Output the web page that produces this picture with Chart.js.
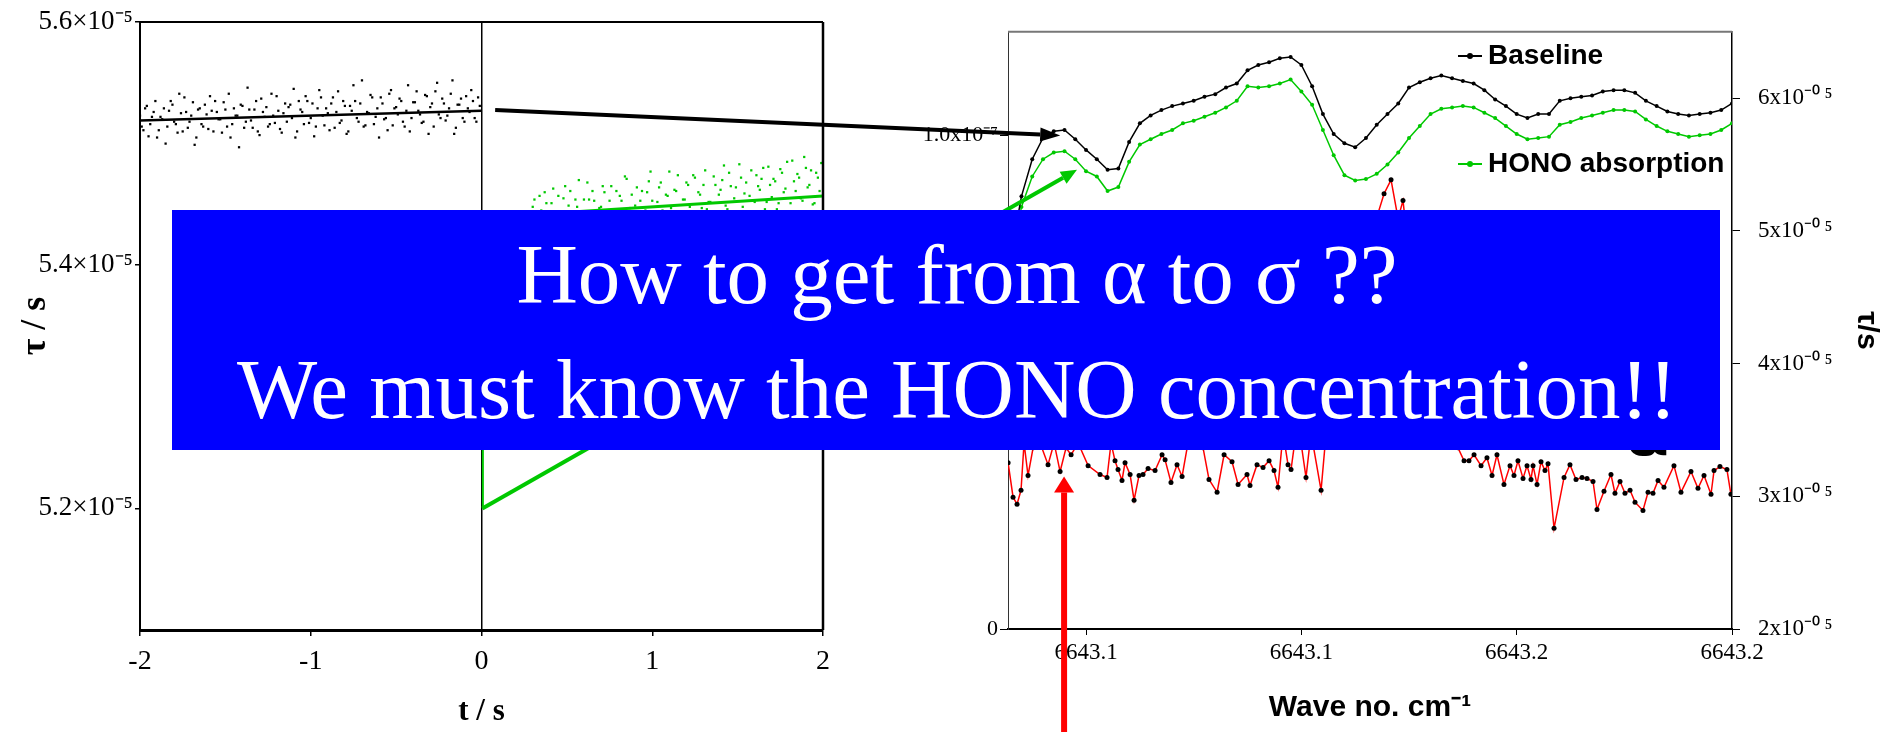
<!DOCTYPE html>
<html>
<head>
<meta charset="utf-8">
<script src="https://cdn.jsdelivr.net/npm/chart.js@4.4.0/dist/chart.umd.min.js"></script>
<style>
  html, body { margin: 0; padding: 0; background: #fff; }
  #stage { position: relative; width: 1881px; height: 732px; overflow: hidden; }
  #stage canvas { position: absolute; top: 0; }
  #left { left: 0; }
  #right { left: 880px; }
  #arrows { left: 0; pointer-events: none; }
  #alphaMark { position: absolute; left: 1625px; top: 401px; font: bold 64px/1 'DejaVu Sans', sans-serif; color: #000; }
  #banner {
    position: absolute; left: 172px; top: 210px; width: 1548px; height: 240px;
    box-sizing: border-box; padding: 7px 0 0 22px;
    background: #0000ff; color: #fff; text-align: center; white-space: nowrap;
    font: 85px/115px 'Liberation Serif', 'Times New Roman', serif;
  }
</style>
</head>
<body>
<div id="stage">
  <canvas id="left" width="870" height="732"></canvas>
  <canvas id="right" width="1001" height="732"></canvas>
  <canvas id="arrows" width="1881" height="732"></canvas>
  <div id="alphaMark">α</div>
  <div id="banner">How to get from α to σ ??<br>We must know the HONO concentration!!</div>
</div>
<script>
// ─── Left panel: ring-down time τ (units of 1e-5 s) vs time ────────────────────
// before HONO (black), two interleaved sample runs
const blackT = [
  -2, -1.98, -1.96, -1.94, -1.92, -1.9, -1.88, -1.86, -1.84, -1.82,
  -1.8, -1.78, -1.76, -1.74, -1.72, -1.7, -1.68, -1.66, -1.64, -1.62,
  -1.6, -1.58, -1.56, -1.54, -1.52, -1.5, -1.48, -1.46, -1.44, -1.42,
  -1.4, -1.38, -1.36, -1.34, -1.32, -1.3, -1.28, -1.26, -1.24, -1.22,
  -1.2, -1.18, -1.16, -1.14, -1.12, -1.1, -1.08, -1.06, -1.04, -1.02,
  -1, -0.98, -0.96, -0.94, -0.92, -0.9, -0.88, -0.86, -0.84, -0.82,
  -0.8, -0.78, -0.76, -0.74, -0.72, -0.7, -0.68, -0.66, -0.64, -0.62,
  -0.6, -0.58, -0.56, -0.54, -0.52, -0.5, -0.48, -0.46, -0.44, -0.42,
  -0.4, -0.38, -0.36, -0.34, -0.32, -0.3, -0.28, -0.26, -0.24, -0.22,
  -0.2, -0.18, -0.16, -0.14, -0.12, -0.1, -0.08, -0.06, -0.04, -0.02
];
const blackTau = [
  5.523, 5.511, 5.531, 5.516, 5.526, 5.505, 5.522, 5.529, 5.514, 5.535,
  5.518, 5.509, 5.525, 5.538, 5.513, 5.523, 5.499, 5.528, 5.516, 5.532,
  5.512, 5.527, 5.535, 5.520, 5.509, 5.528, 5.541, 5.516, 5.523, 5.497,
  5.531, 5.518, 5.528, 5.513, 5.535, 5.507, 5.526, 5.530, 5.516, 5.523,
  5.539, 5.512, 5.525, 5.518, 5.532, 5.545, 5.510, 5.528, 5.516, 5.535,
  5.521, 5.506, 5.529, 5.538, 5.515, 5.525, 5.533, 5.513, 5.543, 5.519,
  5.531, 5.510, 5.527, 5.535, 5.518, 5.552, 5.515, 5.525, 5.538, 5.522,
  5.505, 5.533, 5.521, 5.541, 5.515, 5.530, 5.537, 5.518, 5.527, 5.510,
  5.534, 5.543, 5.524, 5.518, 5.539, 5.530, 5.514, 5.550, 5.521, 5.533,
  5.523, 5.541, 5.508, 5.532, 5.537, 5.518, 5.529, 5.544, 5.521, 5.538
];
const blackT2 = [
  -1.99, -1.97, -1.95, -1.93, -1.91, -1.89, -1.87, -1.85, -1.83, -1.81,
  -1.79, -1.77, -1.75, -1.73, -1.71, -1.69, -1.67, -1.65, -1.63, -1.61,
  -1.59, -1.57, -1.55, -1.53, -1.51, -1.49, -1.47, -1.45, -1.43, -1.41,
  -1.39, -1.37, -1.35, -1.33, -1.31, -1.29, -1.27, -1.25, -1.23, -1.21,
  -1.19, -1.17, -1.15, -1.13, -1.11, -1.09, -1.07, -1.05, -1.03, -1.01,
  -0.99, -0.97, -0.95, -0.93, -0.91, -0.89, -0.87, -0.85, -0.83, -0.81,
  -0.79, -0.77, -0.75, -0.73, -0.71, -0.69, -0.67, -0.65, -0.63, -0.61,
  -0.59, -0.57, -0.55, -0.53, -0.51, -0.49, -0.47, -0.45, -0.43, -0.41,
  -0.39, -0.37, -0.35, -0.33, -0.31, -0.29, -0.27, -0.25, -0.23, -0.21,
  -0.19, -0.17, -0.15, -0.13, -0.11, -0.09, -0.07, -0.05, -0.03, -0.01
];
const blackTau2 = [
  5.514, 5.529, 5.506, 5.522, 5.535, 5.511, 5.520, 5.500, 5.527, 5.532,
  5.516, 5.541, 5.510, 5.526, 5.518, 5.534, 5.505, 5.529, 5.514, 5.524,
  5.539, 5.510, 5.526, 5.520, 5.534, 5.514, 5.505, 5.529, 5.523, 5.532,
  5.513, 5.546, 5.519, 5.528, 5.510, 5.537, 5.522, 5.514, 5.541, 5.517,
  5.527, 5.509, 5.533, 5.530, 5.521, 5.505, 5.535, 5.526, 5.539, 5.517,
  5.533, 5.514, 5.544, 5.523, 5.529, 5.511, 5.538, 5.526, 5.517, 5.535,
  5.508, 5.531, 5.548, 5.521, 5.533, 5.514, 5.526, 5.540, 5.516, 5.529,
  5.538, 5.520, 5.511, 5.544, 5.529, 5.524, 5.535, 5.514, 5.548, 5.521,
  5.534, 5.527, 5.517, 5.540, 5.508, 5.533, 5.543, 5.524, 5.537, 5.519,
  5.529, 5.552, 5.513, 5.532, 5.521, 5.539, 5.526, 5.535, 5.518, 5.531
];
// after HONO (green)
const greenT = [
  0.3, 0.32, 0.34, 0.36, 0.38, 0.4, 0.42, 0.44, 0.46, 0.48,
  0.5, 0.52, 0.54, 0.56, 0.58, 0.6, 0.62, 0.64, 0.66, 0.68,
  0.7, 0.72, 0.74, 0.76, 0.78, 0.8, 0.82, 0.84, 0.86, 0.88,
  0.9, 0.92, 0.94, 0.96, 0.98, 1, 1.02, 1.04, 1.06, 1.08,
  1.1, 1.12, 1.14, 1.16, 1.18, 1.2, 1.22, 1.24, 1.26, 1.28,
  1.3, 1.32, 1.34, 1.36, 1.38, 1.4, 1.42, 1.44, 1.46, 1.48,
  1.5, 1.52, 1.54, 1.56, 1.58, 1.6, 1.62, 1.64, 1.66, 1.68,
  1.7, 1.72, 1.74, 1.76, 1.78, 1.8, 1.82, 1.84, 1.86, 1.88,
  1.9, 1.92, 1.94, 1.96, 1.98, 2
];
const greenTau = [
  5.448, 5.432, 5.457, 5.438, 5.451, 5.430, 5.463, 5.444, 5.436, 5.455,
  5.442, 5.461, 5.435, 5.448, 5.429, 5.454, 5.468, 5.440, 5.453, 5.434,
  5.448, 5.460, 5.440, 5.465, 5.445, 5.434, 5.453, 5.473, 5.439, 5.458,
  5.449, 5.431, 5.461, 5.445, 5.469, 5.453, 5.439, 5.464, 5.445, 5.458,
  5.477, 5.442, 5.461, 5.435, 5.454, 5.468, 5.448, 5.474, 5.440, 5.458,
  5.466, 5.446, 5.452, 5.473, 5.440, 5.462, 5.482, 5.446, 5.465, 5.455,
  5.444, 5.472, 5.459, 5.440, 5.478, 5.452, 5.465, 5.471, 5.446, 5.481,
  5.456, 5.469, 5.451, 5.476, 5.463, 5.443, 5.486, 5.461, 5.472, 5.453,
  5.480, 5.466, 5.450, 5.476, 5.461, 5.485
];
const greenT2 = [
  0.31, 0.33, 0.35, 0.37, 0.39, 0.41, 0.43, 0.45, 0.47, 0.49,
  0.51, 0.53, 0.55, 0.57, 0.59, 0.61, 0.63, 0.65, 0.67, 0.69,
  0.71, 0.73, 0.75, 0.77, 0.79, 0.81, 0.83, 0.85, 0.87, 0.89,
  0.91, 0.93, 0.95, 0.97, 0.99, 1.01, 1.03, 1.05, 1.07, 1.09,
  1.11, 1.13, 1.15, 1.17, 1.19, 1.21, 1.23, 1.25, 1.27, 1.29,
  1.31, 1.33, 1.35, 1.37, 1.39, 1.41, 1.43, 1.45, 1.47, 1.49,
  1.51, 1.53, 1.55, 1.57, 1.59, 1.61, 1.63, 1.65, 1.67, 1.69,
  1.71, 1.73, 1.75, 1.77, 1.79, 1.81, 1.83, 1.85, 1.87, 1.89,
  1.91, 1.93, 1.95, 1.97, 1.99
];
const greenTau2 = [
  5.454, 5.436, 5.445, 5.460, 5.433, 5.451, 5.439, 5.457, 5.431, 5.465,
  5.449, 5.436, 5.454, 5.470, 5.443, 5.430, 5.454, 5.461, 5.440, 5.447,
  5.465, 5.436, 5.453, 5.443, 5.461, 5.457, 5.439, 5.471, 5.447, 5.434,
  5.464, 5.453, 5.443, 5.460, 5.477, 5.439, 5.452, 5.468, 5.443, 5.457,
  5.447, 5.462, 5.474, 5.438, 5.454, 5.466, 5.443, 5.472, 5.460, 5.447,
  5.478, 5.452, 5.439, 5.466, 5.458, 5.470, 5.449, 5.476, 5.444, 5.464,
  5.483, 5.448, 5.468, 5.457, 5.443, 5.474, 5.462, 5.480, 5.452, 5.466,
  5.471, 5.446, 5.479, 5.460, 5.485, 5.451, 5.469, 5.475, 5.455, 5.489,
  5.464, 5.478, 5.451, 5.472, 5.484
];
const blackFitT = [-2, 0];
const blackFitTau = [5.519, 5.527];
const greenFitT = [0, 2];
const greenFitTau = [5.439, 5.457];
const greenJumpT = [0.008, 0.008];
const greenJumpTau = [5.2, 5.33];
const leftXTicks = [-2, -1, 0, 1, 2];
const leftYTicks = [5.2, 5.4, 5.6];

// ─── Right panel: spectra vs wave number ─────────────────────────────────────
// τ in units of 1e-5 s (right axis), α in units of 1e-7 (left axis)
const waveNo = [
  6643.113, 6643.114, 6643.115, 6643.116, 6643.117, 6643.118, 6643.119, 6643.120,
  6643.121, 6643.122, 6643.123, 6643.124, 6643.125, 6643.126, 6643.127, 6643.128,
  6643.129, 6643.130, 6643.131, 6643.132, 6643.133, 6643.134, 6643.135, 6643.136,
  6643.137, 6643.138, 6643.139, 6643.140, 6643.141, 6643.142, 6643.143, 6643.144,
  6643.145, 6643.146, 6643.147, 6643.148, 6643.149, 6643.150, 6643.151, 6643.152,
  6643.153, 6643.154, 6643.155, 6643.156, 6643.157, 6643.158, 6643.159, 6643.160,
  6643.161, 6643.162, 6643.163, 6643.164, 6643.165, 6643.166, 6643.167, 6643.168,
  6643.169, 6643.170, 6643.171, 6643.172, 6643.173, 6643.174, 6643.175, 6643.176,
  6643.177, 6643.178, 6643.179, 6643.180
];
const baselineTau = [
  4.81, 5.26, 5.54, 5.70, 5.75, 5.76, 5.69, 5.61,
  5.54, 5.46, 5.47, 5.67, 5.81, 5.87, 5.91, 5.94,
  5.96, 5.98, 6.01, 6.03, 6.08, 6.11, 6.21, 6.25,
  6.27, 6.30, 6.31, 6.25, 6.09, 5.88, 5.73, 5.66,
  5.63, 5.70, 5.80, 5.88, 5.96, 6.08, 6.12, 6.15,
  6.17, 6.15, 6.13, 6.11, 6.06, 5.99, 5.94, 5.88,
  5.85, 5.88, 5.88, 5.98, 6.00, 6.01, 6.02, 6.05,
  6.06, 6.06, 6.04, 5.98, 5.94, 5.90, 5.88, 5.87,
  5.88, 5.89, 5.91, 5.96
];
const honoTau = [
  4.74, 5.18, 5.41, 5.54, 5.59, 5.60, 5.54, 5.45,
  5.41, 5.30, 5.33, 5.52, 5.65, 5.69, 5.73, 5.76,
  5.81, 5.83, 5.86, 5.89, 5.93, 5.98, 6.09, 6.08,
  6.09, 6.11, 6.14, 6.05, 5.95, 5.76, 5.57, 5.42,
  5.38, 5.39, 5.43, 5.50, 5.59, 5.70, 5.79, 5.88,
  5.92, 5.93, 5.94, 5.93, 5.89, 5.85, 5.79, 5.73,
  5.69, 5.70, 5.71, 5.80, 5.82, 5.85, 5.87, 5.89,
  5.91, 5.91, 5.90, 5.84, 5.79, 5.75, 5.73, 5.71,
  5.72, 5.73, 5.76, 5.81
];
const alphaWave = [
  6643.11276, 6643.11322, 6643.11359, 6643.11396, 6643.11424, 6643.11461, 6643.11508, 6643.11573,
  6643.11647, 6643.11703, 6643.11759, 6643.11814, 6643.11861, 6643.11926, 6643.12019, 6643.12130,
  6643.12195, 6643.12232, 6643.12269, 6643.12297, 6643.12334, 6643.12362, 6643.12409, 6643.12446,
  6643.12492, 6643.12529, 6643.12576, 6643.12641, 6643.12706, 6643.12734, 6643.12789, 6643.12845,
  6643.12892, 6643.12947, 6643.13022, 6643.13087, 6643.13142, 6643.13217, 6643.13282, 6643.13356,
  6643.13412, 6643.13495, 6643.13523, 6643.13588, 6643.13644, 6643.13700, 6643.13746, 6643.13783,
  6643.13830, 6643.13876, 6643.13904, 6643.13950, 6643.13997, 6643.14043, 6643.14090, 6643.14183,
  6643.14238, 6643.14313, 6643.14406, 6643.14498, 6643.14563, 6643.14675, 6643.14703, 6643.14768,
  6643.14833, 6643.14898, 6643.14944, 6643.14981, 6643.15056, 6643.15149, 6643.15288, 6643.15381,
  6643.15455, 6643.15511, 6643.15557, 6643.15604, 6643.15669, 6643.15724, 6643.15771, 6643.15817,
  6643.15882, 6643.15938, 6643.15975, 6643.16012, 6643.16059, 6643.16096, 6643.16133, 6643.16152,
  6643.16189, 6643.16226, 6643.16263, 6643.16291, 6643.16347, 6643.16440, 6643.16495, 6643.16551,
  6643.16607, 6643.16653, 6643.16709, 6643.16746, 6643.16811, 6643.16876, 6643.16913, 6643.16960,
  6643.17006, 6643.17053, 6643.17099, 6643.17173, 6643.17220, 6643.17266, 6643.17313, 6643.17368,
  6643.17461, 6643.17526, 6643.17619, 6643.17684, 6643.17740, 6643.17805, 6643.17833, 6643.17888,
  6643.17953, 6643.17990
];
const alphaVal = [
  0.337, 0.267, 0.253, 0.281, 0.377, 0.311, 0.367, 0.377,
  0.333, 0.377, 0.319, 0.367, 0.353, 0.377, 0.331, 0.313,
  0.307, 0.377, 0.341, 0.323, 0.301, 0.337, 0.313, 0.261,
  0.311, 0.313, 0.325, 0.321, 0.353, 0.343, 0.297, 0.333,
  0.309, 0.377, 0.397, 0.367, 0.303, 0.277, 0.353, 0.339,
  0.293, 0.313, 0.291, 0.333, 0.327, 0.341, 0.321, 0.287,
  0.397, 0.333, 0.323, 0.397, 0.377, 0.307, 0.397, 0.281,
  0.417, 0.497, 0.597, 0.737, 0.796, 0.844, 0.836, 0.882,
  0.910, 0.832, 0.868, 0.796, 0.657, 0.557, 0.457, 0.397,
  0.367, 0.341, 0.341, 0.353, 0.331, 0.347, 0.311, 0.353,
  0.293, 0.331, 0.311, 0.341, 0.305, 0.331, 0.303, 0.331,
  0.293, 0.339, 0.321, 0.335, 0.204, 0.307, 0.333, 0.303,
  0.307, 0.305, 0.299, 0.242, 0.279, 0.313, 0.275, 0.299,
  0.275, 0.281, 0.257, 0.240, 0.277, 0.275, 0.301, 0.287,
  0.331, 0.277, 0.319, 0.285, 0.311, 0.273, 0.321, 0.329,
  0.323, 0.273
];
const waveTicks = [6643.12, 6643.14, 6643.16, 6643.18];
const tauTicks = [2, 3, 4, 5, 6];
const alphaTicks = [0, 1.0];

// arrow anchors, in data units of the panel they sit in
const blackArrowFrom = [0.08, 5.5276];      // left panel (t, τ)
const blackArrowTo = [6643.1176, 5.719];    // right panel (wave no., τ)
const greenArrowFrom = [0.005, 5.2];
const greenArrowTo = [6643.11916, 5.46];
const redArrowTo = [6643.11796, 0.309];     // right panel (wave no., α)

// ─── Helpers ─────────────────────────────────────────────────────────────────
const serif = "'Liberation Serif', 'Times New Roman', serif";
const sans = "'Liberation Sans', Arial, sans-serif";
const GREEN = '#00c800';

const pts = (xs, ys) => xs.map((x, i) => ({ x, y: ys[i] }));
const fixTicks = list => axis => { axis.ticks = list.map(v => ({ value: v })); };
const dots = (xs, ys, color) => ({
  data: pts(xs, ys), pointStyle: 'rect', pointRadius: 1.6, backgroundColor: color, borderWidth: 0,
});

// closes the plot box on the sides that have no axis
const framePlugin = {
  id: 'frame',
  afterDraw(chart, args, opts) {
    const { ctx, chartArea: a } = chart;
    ctx.save();
    if (opts.top) {
      ctx.strokeStyle = opts.top.color; ctx.lineWidth = opts.top.width;
      ctx.beginPath(); ctx.moveTo(a.left, a.top); ctx.lineTo(a.right, a.top); ctx.stroke();
    }
    if (opts.right) {
      ctx.strokeStyle = opts.right.color; ctx.lineWidth = opts.right.width;
      ctx.beginPath(); ctx.moveTo(a.right, a.top); ctx.lineTo(a.right, a.bottom); ctx.stroke();
    }
    ctx.restore();
  }
};

// legend rows placed inside the plot, like the original
const keyPlugin = {
  id: 'key',
  afterDatasetsDraw(chart, args, opts) {
    const ctx = chart.ctx;
    ctx.save();
    opts.rows.forEach(r => {
      const ds = chart.data.datasets[r.dataset];
      ctx.strokeStyle = ds.borderColor; ctx.lineWidth = 2;
      ctx.beginPath(); ctx.moveTo(opts.x, r.y); ctx.lineTo(opts.x + opts.len, r.y); ctx.stroke();
      ctx.fillStyle = ds.pointBackgroundColor;
      ctx.beginPath(); ctx.arc(opts.x + opts.len / 2, r.y, 3, 0, Math.PI * 2); ctx.fill();
      ctx.fillStyle = '#000';
      ctx.font = 'bold 28px ' + sans;
      ctx.textBaseline = 'middle';
      ctx.fillText(ds.label, opts.x + opts.len + 6, r.y);
    });
    ctx.restore();
  }
};

// ─── Left chart ──────────────────────────────────────────────────────────────
const leftChart = new Chart(document.getElementById('left'), {
  type: 'scatter',
  data: {
    datasets: [
      dots(blackT, blackTau, '#000'),
      dots(blackT2, blackTau2, '#000'),
      { data: pts(blackFitT, blackFitTau), showLine: true, borderColor: '#000', borderWidth: 2.5, pointRadius: 0 },
      dots(greenT, greenTau, GREEN),
      dots(greenT2, greenTau2, GREEN),
      { data: pts(greenFitT, greenFitTau), showLine: true, borderColor: GREEN, borderWidth: 3, pointRadius: 0 },
      { data: pts(greenJumpT, greenJumpTau), showLine: true, borderColor: GREEN, borderWidth: 2, pointRadius: 0 },
    ],
  },
  options: {
    responsive: false,
    animation: false,
    events: [],
    layout: { padding: { top: 22, right: 47, left: 0, bottom: 0 } },
    plugins: {
      legend: { display: false },
      tooltip: { enabled: false },
      frame: { top: { color: '#000', width: 2 }, right: { color: '#000', width: 2.5 } },
    },
    scales: {
      x: {
        type: 'linear', min: -2, max: 2,
        afterBuildTicks: fixTicks(leftXTicks),
        afterFit: a => { a.height = 102; },
        border: { color: '#000', width: 3 },
        grid: {
          color: c => (c.tick && c.tick.value === 0) ? '#000' : 'rgba(0,0,0,0)',
          lineWidth: 1.5, tickColor: '#000', tickLength: 6,
        },
        ticks: { color: '#000', font: { family: serif, size: 28 }, padding: 9, maxRotation: 0, autoSkip: false },
        title: { display: true, text: 't / s', color: '#000', font: { family: serif, size: 31, weight: 'bold' }, padding: { top: 0, bottom: 1 } },
      },
      y: {
        type: 'linear', min: 5.1, max: 5.6,
        afterBuildTicks: fixTicks(leftYTicks),
        afterFit: a => { a.width = 140; },
        border: { color: '#000', width: 2 },
        grid: { drawOnChartArea: false, tickColor: '#000', tickLength: 5, lineWidth: 1.5 },
        ticks: { color: '#000', font: { family: serif, size: 27 }, padding: 2, callback: v => v.toFixed(1) + '×10⁻⁵' },
        title: { display: true, text: 'τ / s', color: '#000', font: { family: serif, size: 36, weight: 'bold' }, padding: { top: 14, bottom: 0 } },
      },
    },
  },
  plugins: [framePlugin],
});

// ─── Right chart ─────────────────────────────────────────────────────────────
const rightChart = new Chart(document.getElementById('right'), {
  type: 'scatter',
  data: {
    datasets: [
      {
        label: 'Baseline', data: pts(waveNo, baselineTau), yAxisID: 'yT', showLine: true,
        borderColor: '#000', borderWidth: 1.5, pointRadius: 2, pointBackgroundColor: '#000', pointBorderWidth: 0,
      },
      {
        label: 'HONO absorption', data: pts(waveNo, honoTau), yAxisID: 'yT', showLine: true,
        borderColor: GREEN, borderWidth: 1.5, pointRadius: 2, pointBackgroundColor: GREEN, pointBorderWidth: 0,
      },
      {
        label: 'α', data: pts(alphaWave, alphaVal), yAxisID: 'yA', showLine: true,
        borderColor: '#ff0000', borderWidth: 1.5, pointRadius: 2.5, pointBackgroundColor: '#000', pointBorderWidth: 0,
      },
    ],
  },
  options: {
    responsive: false,
    animation: false,
    events: [],
    layout: { padding: { top: 23, right: 0, left: 0, bottom: 0 } },
    plugins: {
      legend: { display: false },
      tooltip: { enabled: false },
      frame: { top: { color: '#777', width: 2 } },
      key: { x: 578, len: 24, rows: [{ dataset: 0, y: 56 }, { dataset: 1, y: 164 }] },
    },
    scales: {
      x: {
        type: 'linear', min: 6643.11275, max: 6643.18,
        afterBuildTicks: fixTicks(waveTicks),
        afterFit: a => { a.height = 103; },
        border: { color: '#000', width: 2 },
        grid: { drawOnChartArea: false, tickColor: '#000', tickLength: 6 },
        ticks: { color: '#000', font: { family: serif, size: 23 }, padding: 4, maxRotation: 0, autoSkip: false, callback: v => v.toFixed(1) },
        title: { display: true, text: 'Wave no. cm⁻¹', color: '#000', font: { family: sans, size: 30, weight: 'bold' }, padding: { top: 0, bottom: 6 } },
      },
      yA: {
        type: 'linear', position: 'left', min: 0, max: 1.21,
        afterBuildTicks: fixTicks(alphaTicks),
        afterFit: a => { a.width = 128; },
        border: { color: '#333', width: 1 },
        grid: { drawOnChartArea: false, tickColor: '#000', tickLength: 8 },
        ticks: { color: '#000', font: { family: serif, size: 22 }, padding: 2, callback: v => v === 0 ? '0' : v.toFixed(1) + 'x10⁻⁷' },
      },
      yT: {
        type: 'linear', position: 'right', min: 2, max: 6.5,
        afterBuildTicks: fixTicks(tauTicks),
        afterFit: a => { a.width = 149; },
        border: { color: '#000', width: 1.5 },
        grid: { drawOnChartArea: false, tickColor: '#000', tickLength: 8 },
        ticks: { color: '#000', font: { family: serif, size: 23 }, padding: 18, callback: v => v + 'x10⁻⁰\u2009⁵' },
        title: { display: true, text: 'τ/s', color: '#000', font: { family: sans, size: 30, weight: 'bold', lineHeight: 1 }, padding: 0 },
      },
    },
  },
  plugins: [framePlugin, keyPlugin],
});

// ─── Arrows linking the two panels ───────────────────────────────────────────
function pagePoint(chart, xId, yId, [x, y]) {
  return [
    chart.canvas.offsetLeft + chart.scales[xId].getPixelForValue(x),
    chart.canvas.offsetTop + chart.scales[yId].getPixelForValue(y),
  ];
}

function drawArrow(ctx, [x1, y1], [x2, y2], color, width, headLen, headHalf) {
  const ang = Math.atan2(y2 - y1, x2 - x1);
  const bx = x2 - headLen * Math.cos(ang);
  const by = y2 - headLen * Math.sin(ang);
  ctx.strokeStyle = color;
  ctx.lineWidth = width;
  ctx.beginPath(); ctx.moveTo(x1, y1); ctx.lineTo(bx, by); ctx.stroke();
  ctx.fillStyle = color;
  ctx.beginPath();
  ctx.moveTo(x2, y2);
  ctx.lineTo(bx + headHalf * Math.sin(ang), by - headHalf * Math.cos(ang));
  ctx.lineTo(bx - headHalf * Math.sin(ang), by + headHalf * Math.cos(ang));
  ctx.closePath();
  ctx.fill();
}

const actx = document.getElementById('arrows').getContext('2d');
drawArrow(actx,
  pagePoint(leftChart, 'x', 'y', blackArrowFrom),
  pagePoint(rightChart, 'x', 'yT', blackArrowTo),
  '#000', 4, 20, 7);
drawArrow(actx,
  pagePoint(leftChart, 'x', 'y', greenArrowFrom),
  pagePoint(rightChart, 'x', 'yT', greenArrowTo),
  GREEN, 4, 16, 7);
const redTip = pagePoint(rightChart, 'x', 'yA', redArrowTo);
drawArrow(actx, [redTip[0], 740], redTip, '#ff0000', 6, 16, 10);
</script>
</body>
</html>
